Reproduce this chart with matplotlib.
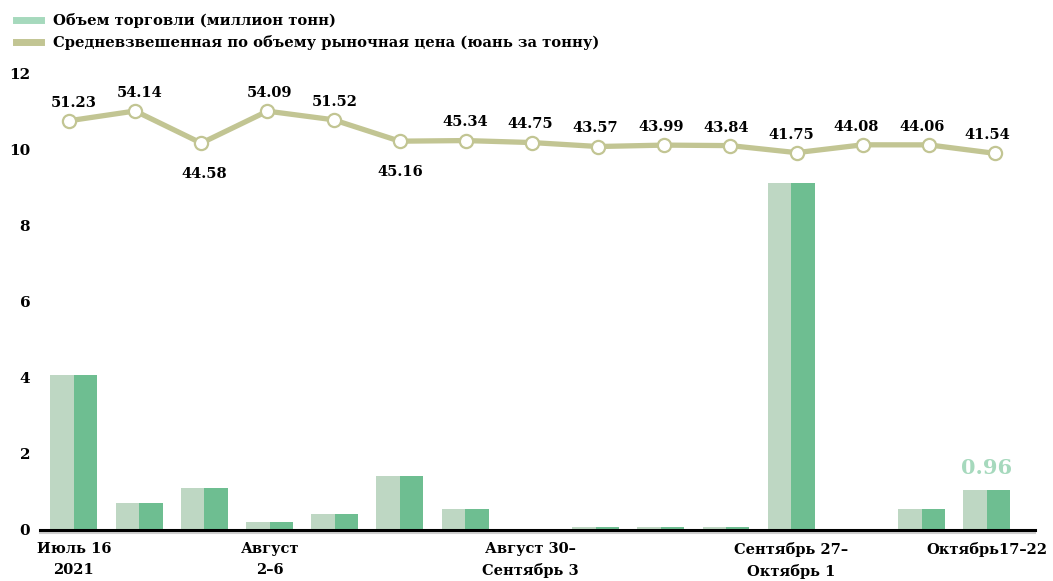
import matplotlib
matplotlib.use("Agg")
import matplotlib.pyplot as plt
from matplotlib.lines import Line2D
from matplotlib.transforms import blended_transform_factory
import numpy as np

plt.rcParams['font.family'] = ['DejaVu Serif']
plt.rcParams['font.weight'] = 'bold'

volume = [4.07, 0.71, 1.10, 0.21, 0.42, 1.42, 0.55, 0.0, 0.07, 0.07, 0.07, 9.11, 0.0, 0.55, 1.04]
price = [51.23, 54.14, 44.58, 54.09, 51.52, 45.16, 45.34, 44.75, 43.57, 43.99, 43.84, 41.75, 44.08, 44.06, 41.54]
price_labels = ["51.23", "54.14", "44.58", "54.09", "51.52", "45.16", "45.34", "44.75",
                "43.57", "43.99", "43.84", "41.75", "44.08", "44.06", "41.54"]
label_below = [2, 5]
tick_positions = [0, 3, 7, 11, 14]
tick_labels = ["Июль 16\n2021", "Август\n2–6", "Август 30–\nСентябрь 3", "Сентябрь 27–\nОктябрь 1", "Октябрь17–22"]
y_ticks = [0, 2, 4, 6, 8, 10, 12]
last_label = "0.96"
legend_labels = ["Объем торговли (миллион тонн)",
                 "Средневзвешенная по объему рыночная цена (юань за тонну)"]

light = "#bed7c3"
dark = "#6ebe91"
olive = "#c2c593"
legend_green = "#a6d9bd"

fig = plt.figure(figsize=(10.53, 5.81), dpi=100)
rect = [0.038, 0.0878, 0.945, 0.7996]
ax = fig.add_axes(rect)
x = np.arange(len(volume))
w = 0.36
ax.bar(x - w / 2, volume, width=w, color=light, zorder=2)
ax.bar(x + w / 2, volume, width=w, color=dark, zorder=2)
ax.set_xlim(-0.52, 14.74)
ymax = 12.2
ax.set_ylim(0, ymax)

for s in ['top', 'right', 'left']:
    ax.spines[s].set_visible(False)
ax.spines['bottom'].set_linewidth(2.2)
ax.spines['bottom'].set_color('black')
ax.spines['bottom'].set_zorder(5)
ax.plot([0, 1], [-0.006, -0.006], transform=ax.transAxes, color='#cfcfcf', lw=1.5, clip_on=False, zorder=4)

ax.set_yticks(y_ticks)
ax.set_yticklabels([str(v) for v in y_ticks], fontsize=11, fontweight='bold')
ax.tick_params(axis='y', length=0, pad=7)
ax.set_xticks(tick_positions)
ax.set_xticklabels(tick_labels, fontsize=10.5, fontweight='bold', linespacing=1.55)
ax.tick_params(axis='x', length=0, pad=9)

# price line on a hidden overlay axes with its own scale
ax2 = fig.add_axes(rect, facecolor='none')
slope = 0.0883
ref_p, ref_y = 54.1, 11.0
ax2.set_ylim(ref_p - ref_y / slope, ref_p + (ymax - ref_y) / slope)
ax2.set_xlim(-0.438, 14.607)
ax2.axis('off')
ax2.plot(x, price, color=olive, lw=3.8, marker='o', markersize=9.5,
         markerfacecolor='white', markeredgecolor=olive, markeredgewidth=1.6, zorder=3)
lab_tr = blended_transform_factory(ax.transData, ax2.transData)
for i, (p, lab) in enumerate(zip(price, price_labels)):
    if i in label_below:
        ax2.annotate(lab, (i, p), xycoords=lab_tr, xytext=(0, -17), textcoords='offset points',
                     ha='center', va='top', fontsize=10.5, fontweight='bold')
    else:
        ax2.annotate(lab, (i, p), xycoords=lab_tr, xytext=(0, 8), textcoords='offset points',
                     ha='center', va='bottom', fontsize=10.5, fontweight='bold')

ax.annotate(last_label, (x[-1], volume[-1]), xytext=(0, 9), textcoords='offset points',
            ha='center', va='bottom', fontsize=15, fontweight='bold', color=legend_green)

handles = [Line2D([0], [0], color=legend_green, lw=5),
           Line2D([0], [0], color=olive, lw=5)]
fig.legend(handles, legend_labels, loc='upper left', bbox_to_anchor=(0.003, 1.0),
           frameon=False, handlelength=1.7, handletextpad=0.8,
           labelspacing=0.45, prop={'weight': 'bold', 'size': 10.6})

fig.savefig("out.png", dpi=100)
